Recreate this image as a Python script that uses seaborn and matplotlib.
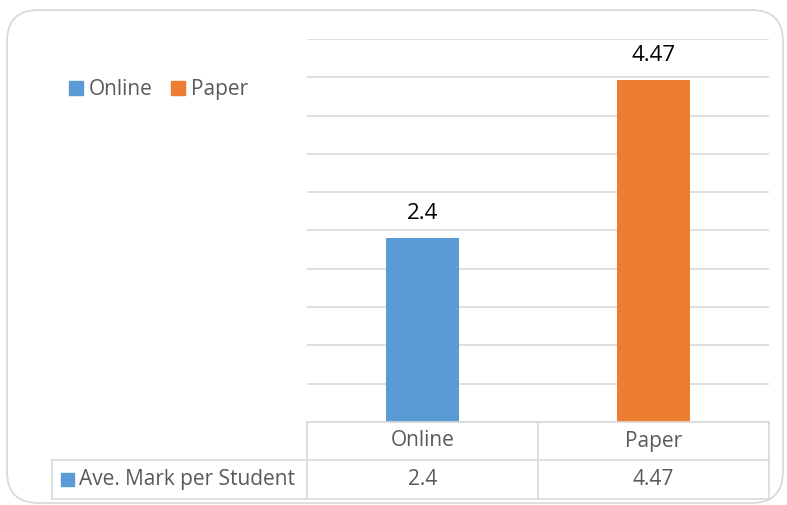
import matplotlib
matplotlib.use("Agg")
import matplotlib.pyplot as plt
from matplotlib.patches import FancyBboxPatch, Rectangle
from matplotlib.lines import Line2D
import seaborn as sns
import pandas as pd
import numpy as np

# data
categories = ["Online", "Paper"]
ave_mark = [2.4, 4.47]
value_labels = ["2.4", "4.47"]
series_name = "Ave. Mark per Student"

W, H = 787, 505
BLUE = "#5B9BD5"
ORANGE = "#ED7D31"
GRID = "#D9D9D9"
TXT = "#595959"
FONT = "Open Sans"
FS = 15

sns.set_style("white")
plt.rcParams["font.family"] = [FONT, "DejaVu Sans"]


def fx(x):
    return x / W


def fy(y):
    return 1 - y / H


fig = plt.figure(figsize=(W / 100, H / 100), dpi=100)

# rounded chart border
border = FancyBboxPatch((fx(7), fy(503)), fx(776), 493 / H,
                        boxstyle="round,pad=0,rounding_size=0.04",
                        transform=fig.transFigure, facecolor="none",
                        edgecolor=GRID, linewidth=1.3, mutation_aspect=W / H,
                        zorder=-1)
fig.patches.append(border)

left, right, top, bottom = 307, 769, 39, 422
ax = fig.add_axes([fx(left), fy(bottom), fx(right - left), (bottom - top) / H])
df = pd.DataFrame({"cat": categories, "val": ave_mark})
sns.barplot(data=df, x="cat", y="val", hue="cat", palette=[BLUE, ORANGE],
            width=0.316, ax=ax, legend=False, saturation=1, linewidth=0)
ax.set_ylim(0, 5)
ax.set_yticks(np.arange(0, 5.01, 0.5))
ax.yaxis.grid(True, color=GRID, linewidth=1.2)
ax.set_axisbelow(True)
ax.set_xlim(-0.5, 1.5)
ax.tick_params(left=False, bottom=False, labelleft=False, labelbottom=False)
for s in ax.spines.values():
    s.set_visible(False)
ax.set_xlabel("")
ax.set_ylabel("")
for c, lab in zip(ax.containers, value_labels):
    ax.bar_label(c, labels=[lab], padding=10, fontsize=16, color="black")

# data table
def hline(x0, x1, y):
    fig.add_artist(Line2D([fx(x0), fx(x1)], [fy(y), fy(y)], color=GRID, lw=1.2,
                          transform=fig.transFigure))


def vline(x, y0, y1):
    fig.add_artist(Line2D([fx(x), fx(x)], [fy(y0), fy(y1)], color=GRID, lw=1.2,
                          transform=fig.transFigure))


col_w = (right - left) / len(categories)
hline(left, right, bottom)
hline(52, right, 460)
hline(52, right, 499)
vline(52, 460, 499)
for i in range(len(categories) + 1):
    vline(left + i * col_w, bottom, 499)
for i, (c, lab) in enumerate(zip(categories, value_labels)):
    cx = left + (i + 0.5) * col_w
    fig.text(fx(cx), fy(441), c, ha="center", va="center", fontsize=FS, color=TXT)
    fig.text(fx(cx), fy(479.5), lab, ha="center", va="center", fontsize=FS, color=TXT)
fig.add_artist(Rectangle((fx(61), fy(486)), 13 / W, 13 / H, color=BLUE,
                         transform=fig.transFigure, zorder=3))
fig.text(fx(79), fy(479.5), series_name, ha="left", va="center", fontsize=FS, color=TXT)

# legend
handles = [Rectangle((0, 0), 1, 1, color=BLUE), Rectangle((0, 0), 1, 1, color=ORANGE)]
fig.legend(handles, categories, loc="center left", bbox_to_anchor=(fx(50), fy(90)),
           ncol=2, frameon=False, fontsize=FS, labelcolor=TXT,
           handlelength=0.67, handleheight=0.67, handletextpad=0.3, columnspacing=0.85)

fig.savefig("out.png", dpi=100)
